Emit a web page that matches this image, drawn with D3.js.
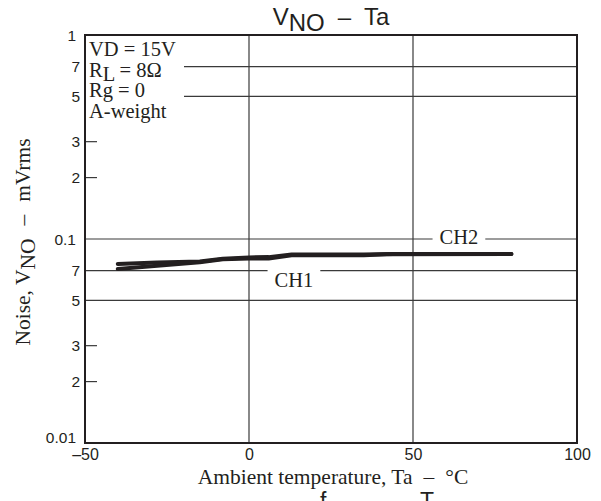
<!DOCTYPE html>
<html>
<head>
<meta charset="utf-8">
<script src="https://cdn.jsdelivr.net/npm/d3@7"></script>
<style>
  html, body { margin: 0; padding: 0; background: #fff; }
  svg { display: block; }
</style>
</head>
<body>
<svg id="chart" width="601" height="501"></svg>
<script>
// ---- data ----
const temps1 = [-40, -28, -15, -8, 0, 6, 13, 35, 42, 80];
const ch1    = [0.0713, 0.0740, 0.0770, 0.0795, 0.0803, 0.0802, 0.0832, 0.0832, 0.0842, 0.0845];
const temps2 = [-40, -28, -15, -8, 0, 6, 13, 35, 44, 80];
const ch2    = [0.0755, 0.0768, 0.0776, 0.0800, 0.0812, 0.0815, 0.0840, 0.0840, 0.0845, 0.0845];
const seriesNames = ["CH1", "CH2"];
const xTicks = [-50, 0, 50, 100];
const xTickLabels = ["\u201350", "0", "50", "100"];
const yTicks = [1, 0.7, 0.5, 0.3, 0.2, 0.1, 0.07, 0.05, 0.03, 0.02, 0.01];
const yTickLabels = ["1", "7", "5", "3", "2", "0.1", "7", "5", "3", "2", "0.01"];
const yGridFull = [0.7, 0.5, 0.1, 0.07, 0.05];
const yGridShort = [0.3, 0.2, 0.03, 0.02];
const xGrid = [0, 50];
const conditions = ["VD = 15V", "R|L| = 8\u03A9", "Rg = 0", "A-weight"];

// ---- layout ----
const L = 85, R = 577, T = 35, B = 443;
const ink = "#231f20";
const serif = "'Liberation Serif', 'Times New Roman', serif";
const sans = "'Liberation Sans', Arial, sans-serif";

const svg = d3.select("#chart");
const x = d3.scaleLinear().domain([-50, 100]).range([L, R]);
const y = d3.scaleLog().domain([0.01, 1]).range([B, T]);

// gridlines
const g = svg.append("g");
g.selectAll("line.hg").data(yGridFull).join("line")
  .attr("x1", L).attr("x2", R)
  .attr("y1", d => y(d)).attr("y2", d => y(d))
  .attr("stroke", "#3a3a3a").attr("stroke-width", 1.2);
g.selectAll("line.hs").data(yGridShort).join("line")
  .attr("x1", L).attr("x2", L + 12)
  .attr("y1", d => y(d)).attr("y2", d => y(d))
  .attr("stroke", "#3a3a3a").attr("stroke-width", 1.2);
g.selectAll("line.vg").data(xGrid).join("line")
  .attr("x1", d => x(d)).attr("x2", d => x(d))
  .attr("y1", T).attr("y2", B)
  .attr("stroke", "#3a3a3a").attr("stroke-width", 1.2);

// conditions box (white background masks the gridlines)
svg.append("rect").attr("x", L + 1).attr("y", T + 1).attr("width", 98).attr("height", 87).attr("fill", "#fff");

// data lines
const line = d3.line().x(d => x(d[0])).y(d => y(d[1]));
const data = [
  temps1.map((t, i) => [t, ch1[i]]),
  temps2.map((t, i) => [t, ch2[i]])
];
svg.selectAll("path.series").data(data).join("path")
  .attr("d", line)
  .attr("fill", "none").attr("stroke", ink).attr("stroke-width", 4)
  .attr("stroke-linejoin", "round").attr("stroke-linecap", "round");

// series labels with white background gaps
function seriesLabel(name, cx, baseline) {
  const t = svg.append("text").attr("x", cx).attr("y", baseline)
    .attr("text-anchor", "middle").attr("font-family", serif).attr("font-size", 20.5)
    .attr("fill", ink).text(name);
  const bb = t.node().getBBox();
  svg.insert("rect", () => t.node())
    .attr("x", bb.x - 7).attr("y", bb.y).attr("width", bb.width + 14).attr("height", bb.height)
    .attr("fill", "#fff");
}
seriesLabel(seriesNames[1], x(64), 244);
seriesLabel(seriesNames[0], x(13.7), 287);

// frame
svg.append("rect").attr("x", L).attr("y", T).attr("width", R - L).attr("height", B - T)
  .attr("fill", "none").attr("stroke", ink).attr("stroke-width", 2);

// y axis labels
const yAxis = d3.axisLeft(y).tickValues(yTicks)
  .tickFormat((d, i) => yTickLabels[i]).tickSize(0).tickPadding(5);
const ya = svg.append("g").attr("transform", `translate(${L},0)`).call(yAxis);
ya.select(".domain").remove();
ya.selectAll("text").attr("font-family", sans).attr("font-size", 15.5).attr("fill", ink)
  .attr("dx", (d, i) => /1$/.test(yTickLabels[i]) ? -4 : 0)
  .attr("dy", (d, i) => yTickLabels[i] === "0.01" ? "-0.05em" : "0.34em");

// x axis labels
const xAxis = d3.axisBottom(x).tickValues(xTicks)
  .tickFormat((d, i) => xTickLabels[i]).tickSize(0).tickPadding(6);
const xa = svg.append("g").attr("transform", `translate(0,${B})`).call(xAxis);
xa.select(".domain").remove();
xa.selectAll("text").attr("font-family", sans).attr("font-size", 16).attr("fill", ink)
  .attr("dy", "0.71em");

// conditions text
conditions.forEach((c, i) => {
  const t = svg.append("text").attr("x", 89).attr("y", 56 + i * 20.7)
    .attr("font-family", serif).attr("font-size", 20.5).attr("fill", ink);
  const parts = c.split("|");
  if (parts.length === 3) {
    t.append("tspan").text(parts[0]);
    t.append("tspan").attr("dy", 4).text(parts[1]);
    t.append("tspan").attr("dy", -4).text(parts[2]);
  } else {
    t.text(c);
  }
});

// title
const title = svg.append("text").attr("x", 331).attr("y", 25)
  .attr("text-anchor", "middle").attr("font-family", sans).attr("font-size", 24).attr("fill", ink);
title.append("tspan").text("V");
title.append("tspan").attr("dy", 6).text("NO");
title.append("tspan").attr("dy", -6).attr("dx", 13).text("\u2013");
title.append("tspan").attr("dx", 13).text("Ta");

// x axis title
const xt = svg.append("text").attr("x", 333).attr("y", 484)
  .attr("text-anchor", "middle").attr("font-family", serif).attr("font-size", 21.5).attr("fill", ink);
xt.append("tspan").text("Ambient temperature, Ta");
xt.append("tspan").attr("dx", 11).text("\u2013");
xt.append("tspan").attr("dx", 11).text("\u00B0C");

// y axis title
const yt = svg.append("text").attr("transform", "translate(30,242) rotate(-90)")
  .attr("text-anchor", "middle").attr("font-family", serif).attr("font-size", 21.5).attr("fill", ink);
yt.append("tspan").text("Noise, V");
yt.append("tspan").attr("dy", 5).text("NO");
yt.append("tspan").attr("dy", -5).attr("dx", 13).text("\u2013");
yt.append("tspan").attr("dx", 13).text("mVrms");

// cut-off next chart title at the bottom edge
svg.append("text").attr("x", 320).attr("y", 509).attr("font-family", sans).attr("font-size", 23).attr("fill", ink).text("f");
svg.append("text").attr("x", 420).attr("y", 509).attr("font-family", sans).attr("font-size", 23).attr("fill", ink).text("T");
</script>
</body>
</html>
